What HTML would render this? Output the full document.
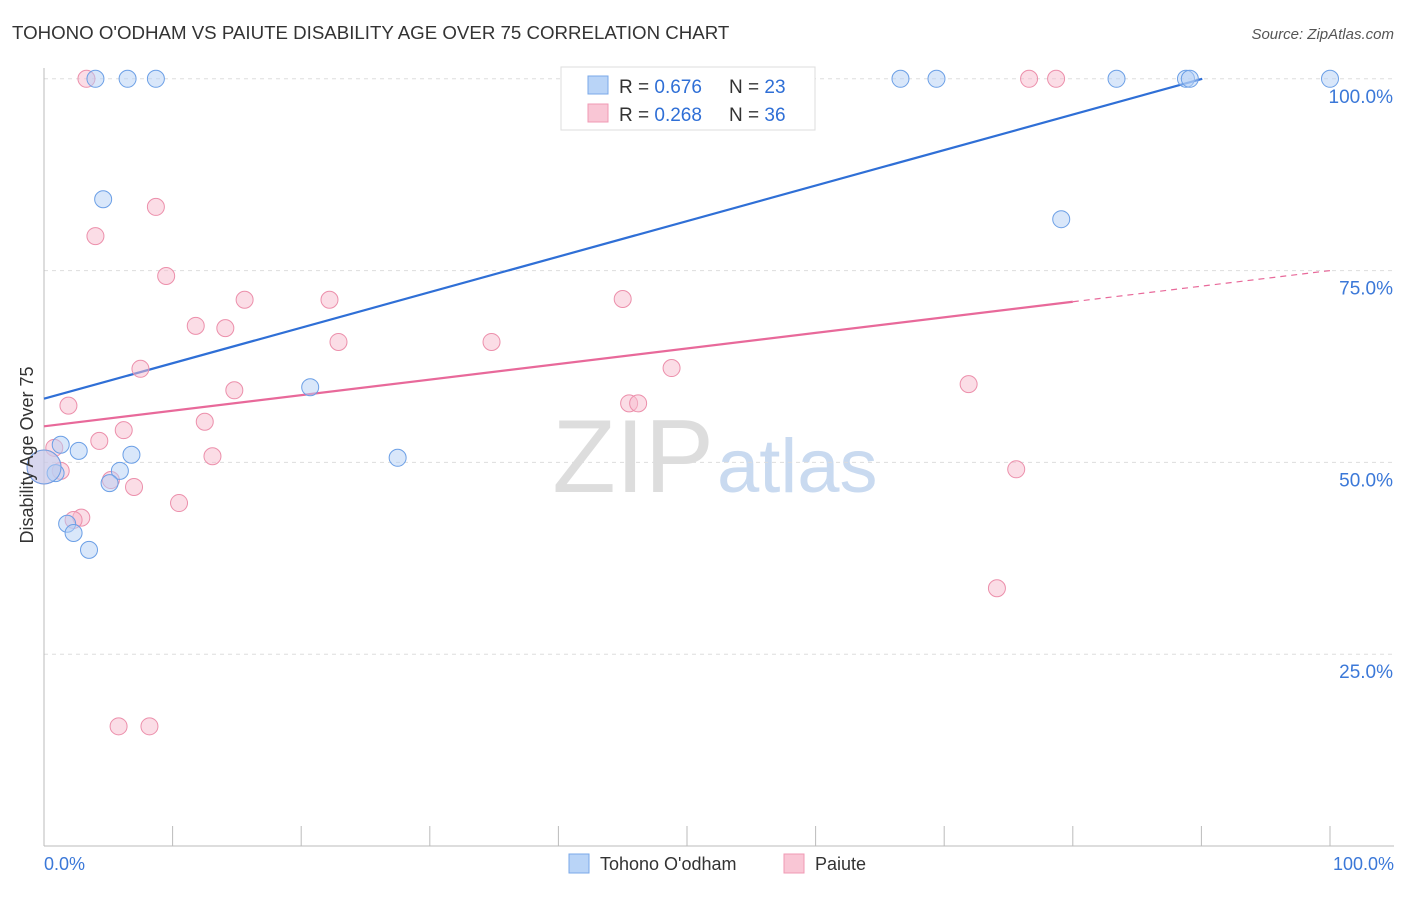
<!DOCTYPE html>
<html><head><meta charset="utf-8"><style>
body{margin:0;background:#fff;font-family:"Liberation Sans",sans-serif;}
svg text{font-family:"Liberation Sans",sans-serif;}
</style></head><body>
<svg id="chart" width="1406" height="892" xmlns="http://www.w3.org/2000/svg">
<text x="12" y="39" font-size="18.7" fill="#333">TOHONO O'ODHAM VS PAIUTE DISABILITY AGE OVER 75 CORRELATION CHART</text>
<text x="1394" y="39" font-size="15" fill="#555" text-anchor="end" font-style="italic">Source: ZipAtlas.com</text>
<text x="714" y="492" font-size="104" fill="#ddd" text-anchor="end" font-family="Liberation Serif">ZIP</text>
<text x="717" y="492" font-size="76" fill="#c9daf0">atlas</text>
<g id="grid"></g>
<g id="axes"></g>
<g id="lines"></g>
<g id="points"></g>
<text transform="translate(33,455) rotate(-90)" font-size="18" fill="#333" text-anchor="middle">Disability Age Over 75</text>
<g>
<rect x="561" y="67" width="254" height="63" fill="#fff" stroke="#ddd"/>
<rect x="588" y="76" width="20" height="18" fill="#b9d4f7" stroke="#7aa8e8"/>
<rect x="588" y="104" width="20" height="18" fill="#f9c6d5" stroke="#f09ab4"/>
<text x="619" y="93" font-size="19" fill="#333">R = <tspan fill="#2f6fd6">0.676</tspan></text>
<text x="729" y="93" font-size="19" fill="#333">N = <tspan fill="#2f6fd6">23</tspan></text>
<text x="619" y="121" font-size="19" fill="#333">R = <tspan fill="#2f6fd6">0.268</tspan></text>
<text x="729" y="121" font-size="19" fill="#333">N = <tspan fill="#2f6fd6">36</tspan></text>
</g>
<g>
<rect x="569" y="854" width="20" height="19" fill="#b9d4f7" stroke="#7aa8e8"/>
<text x="600" y="870" font-size="18" fill="#333">Tohono O'odham</text>
<rect x="784" y="854" width="20" height="19" fill="#f9c6d5" stroke="#f09ab4"/>
<text x="815" y="870" font-size="18" fill="#333">Paiute</text>
</g>
</svg>
<script>
const yTicks=[25,50,75,100];
const yTickLabels=["25.0%","50.0%","75.0%","100.0%"];
const xTickLabels=["0.0%","100.0%"];
const blueX=[4.0,6.5,8.7,66.6,69.4,83.4,88.8,89.1,100,4.6,79.1,20.7,27.5,1.3,2.7,6.8,5.9,5.1,0.9,1.8,2.3,3.5,0];
const blueY=[100,100,100,100,100,100,100,100,100,84.3,81.7,59.8,50.6,52.3,51.5,51.0,48.9,47.3,48.6,42.0,40.8,38.6,49.4];
const pinkX=[3.3,76.6,78.7,8.7,4.0,9.5,15.6,22.2,45.0,11.8,14.1,22.9,34.8,7.5,48.8,71.9,14.8,1.9,45.5,46.2,12.5,6.2,4.3,0.8,13.1,1.3,75.6,5.2,7.0,10.5,2.9,2.3,74.1,5.8,8.2,0];
const pinkY=[100,100,100,83.3,79.5,74.3,71.2,71.2,71.3,67.8,67.5,65.7,65.7,62.2,62.3,60.2,59.4,57.4,57.7,57.7,55.3,54.2,52.8,51.9,50.8,48.9,49.1,47.7,46.8,44.7,42.8,42.5,33.6,15.6,15.6,49.4];
const blueFit=[58.3,104.6];
const pinkFit=[54.7,75.0];
const pinkSolidEnd=80;
const NS="http://www.w3.org/2000/svg";
const X=v=>44+v*12.86, Y=v=>846-v*7.672;
function mk(t,a,p){const e=document.createElementNS(NS,t);for(const k in a)e.setAttribute(k,a[k]);p.appendChild(e);return e;}
const g=document.getElementById('grid'),ax=document.getElementById('axes'),ln=document.getElementById('lines'),pt=document.getElementById('points');
yTicks.forEach((t,i)=>{
 const l=mk('line',{x1:44,x2:1394,y1:Y(t),y2:Y(t),stroke:'#ddd','stroke-dasharray':'4,4'},g);
 
 
 const tx=mk('text',{x:1393,y:Y(t)+24,'font-size':19,fill:'#3b78d8','text-anchor':'end'},ax);
 tx.textContent=yTickLabels[i];
 
 
});
mk('line',{x1:44,x2:44,y1:68,y2:846,stroke:'#bbb'},ax);
mk('line',{x1:44,x2:1394,y1:846,y2:846,stroke:'#bbb'},ax);
for(let i=0;i<=10;i++){mk('line',{x1:X(i*10),x2:X(i*10),y1:826,y2:846,stroke:'#bbb'},ax);}
xTickLabels.forEach((s,i)=>{
 const tx=mk('text',{x:i?1394:44,y:870,'font-size':18,fill:'#3b78d8','text-anchor':i?'end':'start'},ax);
 tx.textContent=s;
 
 
});
function drawPts(xs,ys,fill,stroke,name){
 xs.forEach((x,i)=>{
  const big=(x===0);
  const c=mk('circle',{cx:X(x),cy:Y(ys[i]),r:big?17:8.5,fill:fill,'fill-opacity':0.5,stroke:stroke,'stroke-width':1},pt);
  
  
 });
}
drawPts(pinkX,pinkY,'#f7bccd','#ec8fab','paiute-point');
drawPts(blueX,blueY,'#b3cff5','#6b9fe6','tohono-point');
const bEnd=(100-blueFit[0])/((blueFit[1]-blueFit[0])/100);
const b=mk('line',{x1:X(0),y1:Y(blueFit[0]),x2:X(bEnd),y2:Y(100),stroke:'#2f6fd6','stroke-width':2.2},ln);


const pAt=v=>pinkFit[0]+(pinkFit[1]-pinkFit[0])*v/100;
const p=mk('line',{x1:X(0),y1:Y(pAt(0)),x2:X(pinkSolidEnd),y2:Y(pAt(pinkSolidEnd)),stroke:'#e8699a','stroke-width':2.2},ln);


const pd=mk('line',{x1:X(pinkSolidEnd),y1:Y(pAt(pinkSolidEnd)),x2:X(100),y2:Y(pAt(100)),stroke:'#e8699a','stroke-width':1.2,'stroke-dasharray':'6,5'},ln);


</script>
</body></html>
